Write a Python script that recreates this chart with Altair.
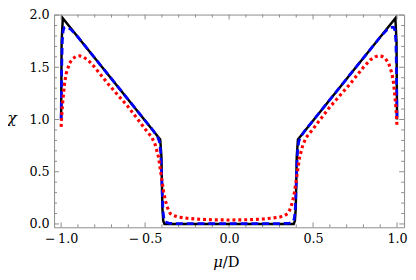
import altair as alt
import pandas as pd

# ---- data ----
black_x = [-1.0, -0.997, -0.99, -0.41, -0.403, -0.4, -0.397, -0.392, -0.385,
           0.385, 0.392, 0.397, 0.4, 0.403, 0.41, 0.99, 0.997, 1.0]
black_y = [1.0, 1.75, 1.97, 0.81, 0.65, 0.4, 0.15, 0.03, 0.0,
           0.0, 0.03, 0.15, 0.4, 0.65, 0.81, 1.97, 1.75, 1.0]

blue_x = [-1.0, -0.997, -0.993, -0.988, -0.982, -0.975, -0.96, -0.94, -0.9, -0.6,
          -0.45, -0.425, -0.415, -0.408, -0.403, -0.4, -0.397, -0.393, -0.388,
          -0.38, -0.36, -0.3, 0.0,
          0.3, 0.36, 0.38, 0.388, 0.393, 0.397, 0.4, 0.403, 0.408, 0.415, 0.425,
          0.45, 0.6, 0.9, 0.94, 0.96, 0.975, 0.982, 0.988, 0.993, 0.997, 1.0]
blue_y = [1.0, 1.45, 1.75, 1.85, 1.88, 1.885, 1.88, 1.86, 1.79, 1.19,
          0.89, 0.83, 0.79, 0.7, 0.55, 0.4, 0.25, 0.12, 0.05,
          0.02, 0.008, 0.003, 0.003,
          0.003, 0.008, 0.02, 0.05, 0.12, 0.25, 0.4, 0.55, 0.7, 0.79, 0.83,
          0.89, 1.19, 1.79, 1.86, 1.88, 1.885, 1.88, 1.85, 1.75, 1.45, 1.0]

red_x = [-1.0, -0.995, -0.99, -0.98, -0.97, -0.95, -0.93, -0.91, -0.89, -0.87,
         -0.84, -0.8, -0.72, -0.6, -0.5, -0.46, -0.44, -0.42, -0.41, -0.4,
         -0.39, -0.38, -0.37, -0.36, -0.35, -0.33, -0.3, -0.25, -0.2, -0.1, 0.0,
         0.1, 0.2, 0.25, 0.3, 0.33, 0.35, 0.36, 0.37, 0.38, 0.39,
         0.4, 0.41, 0.42, 0.44, 0.46, 0.5, 0.6, 0.72, 0.8, 0.84,
         0.87, 0.89, 0.91, 0.93, 0.95, 0.97, 0.98, 0.99, 0.995, 1.0]
red_y = [0.93, 1.08, 1.18, 1.34, 1.44, 1.54, 1.585, 1.605, 1.61, 1.60,
         1.57, 1.5, 1.34, 1.12, 0.91, 0.83, 0.76, 0.64, 0.53, 0.42,
         0.31, 0.23, 0.17, 0.13, 0.10, 0.08, 0.065, 0.055, 0.047, 0.04, 0.038,
         0.04, 0.047, 0.055, 0.065, 0.08, 0.10, 0.13, 0.17, 0.23, 0.31,
         0.42, 0.53, 0.64, 0.76, 0.83, 0.91, 1.12, 1.34, 1.5, 1.57,
         1.60, 1.61, 1.605, 1.585, 1.54, 1.44, 1.34, 1.18, 1.08, 0.93]

x_major = [-1.0, -0.5, 0.0, 0.5, 1.0]
x_minor = [-0.9, -0.8, -0.7, -0.6, -0.4, -0.3, -0.2, -0.1,
           0.1, 0.2, 0.3, 0.4, 0.6, 0.7, 0.8, 0.9]
y_major = [0.0, 0.5, 1.0, 1.5, 2.0]
y_minor = [0.1, 0.2, 0.3, 0.4, 0.6, 0.7, 0.8, 0.9,
           1.1, 1.2, 1.3, 1.4, 1.6, 1.7, 1.8, 1.9]

W, H = 357, 217
XDOM = [-1.042, 1.042]
YDOM = [-0.032, 2.005]
FONT = "DejaVu Serif"
FS = 13
FRAME = "#8a8a8a"

xs = alt.Scale(domain=XDOM, nice=False, zero=False)
ys = alt.Scale(domain=YDOM, nice=False, zero=False)

xaxis = alt.Axis(values=x_major, title=None, ticks=False, tickSize=0, domain=False,
                 grid=False, labelPadding=5, labelFontSize=FS, labelFont=FONT,
                 labelColor="black",
                 labelExpr="datum.value < 0 ? '\u2212\u2009' + format(-datum.value, '.1f') : format(datum.value, '.1f')")
yaxis = alt.Axis(values=y_major, title=None, ticks=False, tickSize=0, domain=False,
                 grid=False, labelPadding=5, labelFontSize=FS, labelFont=FONT,
                 labelColor="black", format=".1f")

black_df = pd.DataFrame({"x": black_x, "y": black_y, "i": range(len(black_x))})
blue_df = pd.DataFrame({"x": blue_x, "y": blue_y, "i": range(len(blue_x))})
red_df = pd.DataFrame({"x": red_x, "y": red_y, "i": range(len(red_x))})

black = alt.Chart(black_df).mark_line(color="black", strokeWidth=2.5).encode(
    x=alt.X("x:Q", scale=xs, axis=xaxis),
    y=alt.Y("y:Q", scale=ys, axis=yaxis),
    order="i:Q")
blue = alt.Chart(blue_df).mark_line(color="#0000ff", strokeWidth=2.8,
                                    strokeDash=[7, 4]).encode(
    x=alt.X("x:Q", scale=xs), y=alt.Y("y:Q", scale=ys), order="i:Q")
red = alt.Chart(red_df).mark_line(color="#ff0000", strokeWidth=3.2,
                                  strokeDash=[3, 3], strokeCap="butt").encode(
    x=alt.X("x:Q", scale=xs), y=alt.Y("y:Q", scale=ys), order="i:Q")


def xticks(vals, length):
    d = pd.DataFrame({"t": vals})
    base = alt.Chart(d).mark_rule(color=FRAME, strokeWidth=1)
    bot = base.encode(x=alt.X("t:Q", scale=xs), y=alt.value(H), y2=alt.value(H - length))
    top = base.encode(x=alt.X("t:Q", scale=xs), y=alt.value(0), y2=alt.value(length))
    return [bot, top]


def yticks(vals, length):
    d = pd.DataFrame({"t": vals})
    base = alt.Chart(d).mark_rule(color=FRAME, strokeWidth=1)
    left = base.encode(y=alt.Y("t:Q", scale=ys), x=alt.value(0), x2=alt.value(length))
    right = base.encode(y=alt.Y("t:Q", scale=ys), x=alt.value(W), x2=alt.value(W - length))
    return [left, right]


ticks = xticks(x_major, 5) + xticks(x_minor, 3) + yticks(y_major, 5) + yticks(y_minor, 3)

ylab = alt.Chart(pd.DataFrame({"t": ["χ"]})).mark_text(
    font=FONT, fontSize=16, fontStyle="italic", align="center", baseline="middle",
    color="black").encode(text="t:N", x=alt.value(-43), y=alt.value(106))
xlab_mu = alt.Chart(pd.DataFrame({"t": ["μ"]})).mark_text(
    font=FONT, fontSize=15, fontStyle="italic", align="right", baseline="alphabetic",
    color="black").encode(text="t:N", x=alt.value(172), y=alt.value(257))
xlab_d = alt.Chart(pd.DataFrame({"t": ["/D"]})).mark_text(
    font=FONT, fontSize=15, align="left", baseline="alphabetic",
    color="black").encode(text="t:N", x=alt.value(172), y=alt.value(257))

chart = alt.layer(*ticks, black, blue, red, ylab, xlab_mu, xlab_d).properties(
    width=W, height=H,
    autosize=alt.AutoSizeParams(type="none"),
    padding={"left": 47, "top": 4, "right": 4, "bottom": 48},
).configure(font=FONT).configure_axis(labelFont=FONT).configure_text(font=FONT
).configure_view(stroke=FRAME, strokeWidth=1)

chart.save("out.html", embed_options={"renderer": "svg", "actions": False})
